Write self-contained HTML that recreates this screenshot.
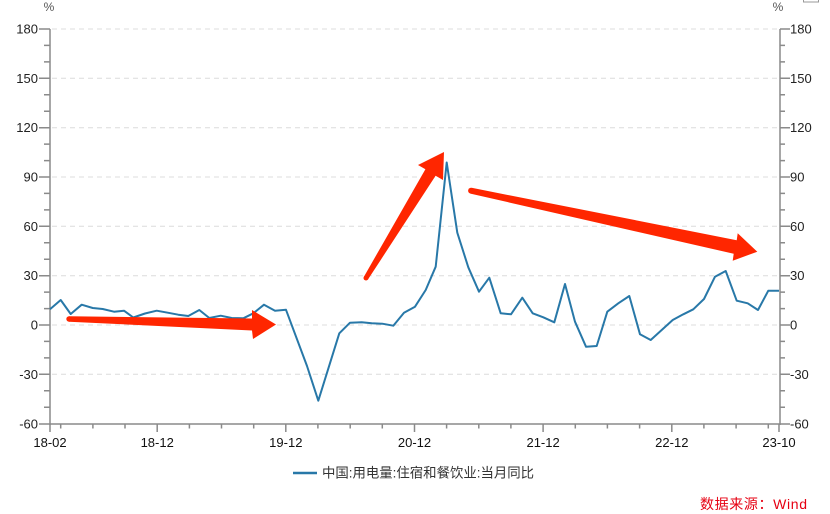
<!DOCTYPE html>
<html>
<head>
<meta charset="utf-8">
<style>
html,body{margin:0;padding:0;background:#fff;}
svg{display:block;}
text{font-family:"Liberation Sans","Noto Sans CJK SC",sans-serif;}
</style>
</head>
<body>
<svg width="830" height="514" viewBox="0 0 830 514" xmlns="http://www.w3.org/2000/svg">
<rect x="0" y="0" width="830" height="514" fill="#fff"/>
<rect x="803.5" y="-10" width="15" height="12" fill="none" stroke="#999" stroke-width="1"/>

<g stroke="#dcdcdc" stroke-width="1" stroke-dasharray="5,4">
<line x1="52" y1="29" x2="779" y2="29"/>
<line x1="52" y1="78.3" x2="779" y2="78.3"/>
<line x1="52" y1="127.7" x2="779" y2="127.7"/>
<line x1="52" y1="177" x2="779" y2="177"/>
<line x1="52" y1="226.3" x2="779" y2="226.3"/>
<line x1="52" y1="275.7" x2="779" y2="275.7"/>
<line x1="52" y1="325" x2="779" y2="325"/>
<line x1="52" y1="374.3" x2="779" y2="374.3"/>
</g>

<g stroke="#8a8a8a" stroke-width="1.5" fill="none">
<line x1="50" y1="29" x2="50" y2="425"/>
<line x1="780" y1="29" x2="780" y2="425"/>
<line x1="50" y1="424" x2="780" y2="424"/>
<path d="M39 29H50M39 78.3H50M39 127.7H50M39 177H50M39 226.3H50M39 275.7H50M39 325H50M39 374.3H50M39 424H50"/>
<path d="M44 45.4H50M44 61.9H50M44 94.8H50M44 111.2H50M44 144.1H50M44 160.6H50M44 193.4H50M44 209.9H50M44 242.8H50M44 259.2H50M44 292.1H50M44 308.6H50M44 341.4H50M44 357.9H50M44 390.8H50M44 407.2H50"/>
<path d="M780 29H790M780 78.3H790M780 127.7H790M780 177H790M780 226.3H790M780 275.7H790M780 325H790M780 374.3H790M780 424H790"/>
<path d="M780 45.4H785M780 61.9H785M780 94.8H785M780 111.2H785M780 144.1H785M780 160.6H785M780 193.4H785M780 209.9H785M780 242.8H785M780 259.2H785M780 292.1H785M780 308.6H785M780 341.4H785M780 357.9H785M780 390.8H785M780 407.2H785"/>
<path d="M50 424V432M157.2 424V432M285.8 424V432M414.5 424V432M543.1 424V432M671.8 424V432M779 424V432"/>
<path d="M60.7 424V428.5M92.9 424V428.5M125 424V428.5M189.4 424V428.5M221.5 424V428.5M253.7 424V428.5M317.9 424V428.5M350.2 424V428.5M382.3 424V428.5M446.6 424V428.5M478.8 424V428.5M510.9 424V428.5M575.3 424V428.5M607.4 424V428.5M639.6 424V428.5M703.9 424V428.5M736.1 424V428.5M768.3 424V428.5"/>
</g>

<g font-size="13" fill="#222" text-anchor="end">
<text x="38" y="33.5">180</text>
<text x="38" y="82.8">150</text>
<text x="38" y="132.2">120</text>
<text x="38" y="181.5">90</text>
<text x="38" y="230.8">60</text>
<text x="38" y="280.2">30</text>
<text x="38" y="329.5">0</text>
<text x="38" y="378.8">-30</text>
<text x="38" y="428.5">-60</text>
</g>
<g font-size="13" fill="#222" text-anchor="start">
<text x="790" y="33.5">180</text>
<text x="790" y="82.8">150</text>
<text x="790" y="132.2">120</text>
<text x="790" y="181.5">90</text>
<text x="790" y="230.8">60</text>
<text x="790" y="280.2">30</text>
<text x="790" y="329.5">0</text>
<text x="790" y="378.8">-30</text>
<text x="790" y="428.5">-60</text>
</g>
<g font-size="12" fill="#555" text-anchor="middle">
<text x="49" y="11">%</text>
<text x="778" y="11">%</text>
</g>

<g font-size="13" fill="#111" text-anchor="middle">
<text x="50" y="447">18-02</text>
<text x="157.2" y="447">18-12</text>
<text x="285.8" y="447">19-12</text>
<text x="414.5" y="447">20-12</text>
<text x="543.1" y="447">21-12</text>
<text x="671.8" y="447">22-12</text>
<text x="779" y="447">23-10</text>
</g>

<polyline fill="none" stroke="#2878a8" stroke-width="2" stroke-linejoin="round" points="
50,309.3 60.7,300 70.7,314 81.7,304.7 92.7,308 102.7,309 114,311.7 124,310.7 133.3,317.5 145,313.5 156.7,310.7 167.7,312.7 178.3,314.7 188.3,316 199.3,310 209.3,318 220.7,315.7 231.7,318 243.3,318.3 253.3,313.3 264,304.7 275,310.7 286,309.8 307,366 318.3,400.7 339.3,333.3 350,322.7 361.7,322.3 371.7,323.3 382.3,323.7 393.3,325.7 404,312.7 415,306.7 425.7,290 435.7,266.7 446.7,162.5 457.3,232.7 468.3,267.3 479,291.7 489.3,277.7 500.7,313.3 511,314.3 522.3,297.7 532.7,313.3 543.3,317.3 554.3,322.3 565,284 575,321.7 586,346.7 596.7,346 607.3,311.7 618.3,303.3 629.3,296 640,334.3 650.7,340 661.7,330 672.7,320 683.3,314.3 693.3,309.3 704,299 715,276.7 725.7,271 736.7,300.7 747.7,303.3 758,310 768.3,290.7 779,290.7"/>

<g fill="#ff2600">
<polygon points="69,316.3 252,318.5 252,310 276,324.5 253,339 252,330.5 69,321.7"/>
<circle cx="69" cy="319" r="2.7"/>
<polygon points="363.9,276.7 425.4,169.3 418,165 444,152 443,180 435.6,175.7 368.1,279.3"/>
<circle cx="366" cy="278" r="2.5"/>
<polygon points="471.6,187.8 736.7,240.2 737.7,233.3 757.3,251.7 732.7,260.7 733.7,253.8 470.4,193.6"/>
<circle cx="471" cy="190.7" r="2.9"/>
</g>

<line x1="293" y1="473" x2="317" y2="473" stroke="#2878a8" stroke-width="2.5"/>
<text x="322" y="477.5" font-size="13.4" fill="#333">中国:用电量:住宿和餐饮业:当月同比</text>

<text x="700" y="509" font-size="14" fill="#e60012" textLength="107" lengthAdjust="spacing">数据来源：Wind</text>
</svg>
</body>
</html>
